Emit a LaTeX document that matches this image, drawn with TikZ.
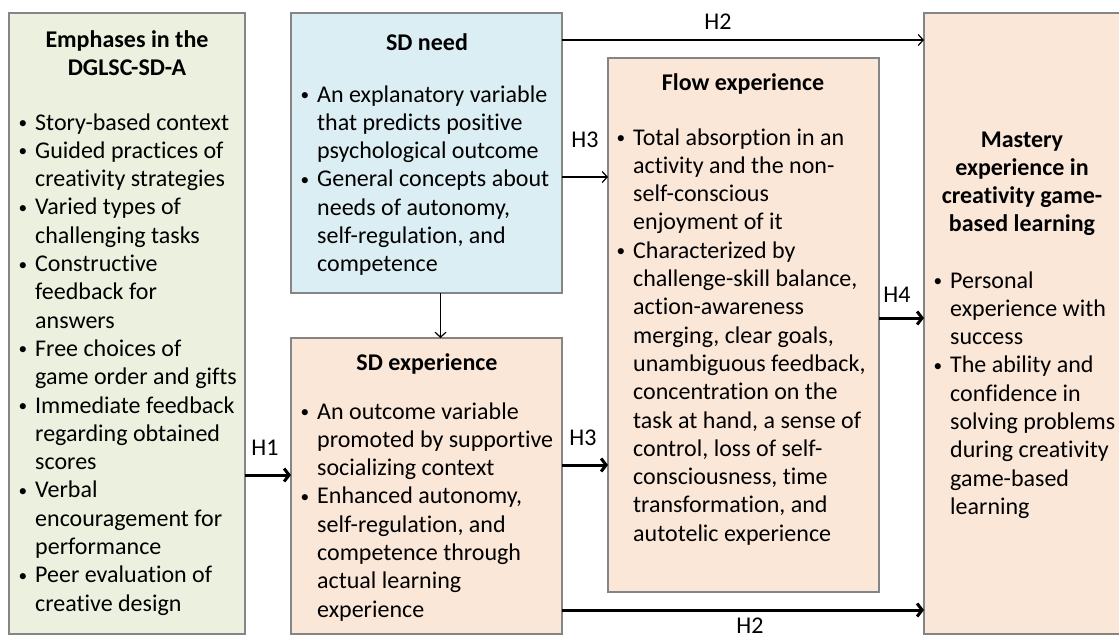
\documentclass[tikz,border=0pt]{standalone}
\usepackage{fontspec}
\usepackage{graphicx}
\setmainfont[Ligatures=NoCommon]{Carlito}
\usetikzlibrary{arrows.meta}
\definecolor{gfill}{HTML}{EBF1DE}
\definecolor{bfill}{HTML}{DBEEF4}
\definecolor{pfill}{HTML}{FBE7D8}
\definecolor{bord}{HTML}{858585}
\newcommand{\fs}{\fontsize{24}{28.3}\selectfont}
\newcommand{\bu}{\hfill\raisebox{1.5pt}{\scalebox{0.72}{\textbullet}}\kern8pt}
\newenvironment{blist}{\begin{tabular}[t]{@{}p{20pt}@{}l@{}}}{\end{tabular}}
\newenvironment{tlist}{\begin{tabular}[t]{@{}c@{}}}{\end{tabular}}
\begin{document}
\begin{tikzpicture}[x=1pt,y=-1pt,
 box/.style={draw=bord, line width=1.6pt, inner sep=0pt, outer sep=0pt, anchor=north west},
 ttl/.style={inner sep=0pt, font=\fs\bfseries, anchor=base},
 txt/.style={inner sep=0pt, font=\fs, anchor=base west},
 lab/.style={inner sep=0pt, font=\fs, anchor=base},
 thinarr/.style={line width=1.2pt, -{Straight Barb[length=5pt,width=11pt]}},
 thickarr/.style={line width=3pt, -{Straight Barb[length=5pt,width=13pt]}}]
\useasboundingbox (0,0) rectangle (1119,638);
% boxes
\node[box, fill=gfill, minimum width=236pt, minimum height=621pt] (g) at (9,13) {};
\node[box, fill=bfill, minimum width=271pt, minimum height=280pt] (n) at (291,13) {};
\node[box, fill=pfill, minimum width=271pt, minimum height=296pt] (e) at (291,338) {};
\node[box, fill=pfill, minimum width=271pt, minimum height=534pt] (f) at (608,58) {};
\node[box, fill=pfill, minimum width=197pt, minimum height=621pt] (m) at (924,13) {};
% green
\node[ttl] (gt) at (127,47) {\begin{tlist}Emphases in the\\ DGLSC-SD-A\end{tlist}};
\node[txt] (gl) at (15,130) {\begin{blist}
\bu & Story-based context\\
\bu & Guided practices of\\
    & creativity strategies\\
\bu & Varied types of\\
    & challenging tasks\\
\bu & Constructive\\
    & feedback for\\
    & answers\\
\bu & Free choices of\\
    & game order and gifts\\
\bu & Immediate feedback\\
    & regarding obtained\\
    & scores\\
\bu & Verbal\\
    & encouragement for\\
    & performance\\
\bu & Peer evaluation of\\
    & creative design
\end{blist}};
% SD need
\node[ttl] (nt) at (427,50) {SD need};
\node[txt] (nl) at (297,102) {\begin{blist}
\bu & An explanatory variable\\
    & that predicts positive\\
    & psychological outcome\\
\bu & General concepts about\\
    & needs of autonomy,\\
    & self-regulation, and\\
    & competence
\end{blist}};
% SD experience
\node[ttl] (et) at (427,370) {SD experience};
\node[txt] (el) at (297,419) {\begin{blist}
\bu & An outcome variable\\
    & promoted by supportive\\
    & socializing context\\
\bu & Enhanced autonomy,\\
    & self-regulation, and\\
    & competence through\\
    & actual learning\\
    & experience
\end{blist}};
% Flow
\node[ttl] (ft) at (743,90) {Flow experience};
\node[txt] (fl) at (613,145) {\begin{blist}
\bu & Total absorption in an\\
    & activity and the non-\\
    & self-conscious\\
    & enjoyment of it\\
\bu & Characterized by\\
    & challenge-skill balance,\\
    & action-awareness\\
    & merging, clear goals,\\
    & unambiguous feedback,\\
    & concentration on the\\
    & task at hand, a sense of\\
    & control, loss of self-\\
    & consciousness, time\\
    & transformation, and\\
    & autotelic experience
\end{blist}};
% Mastery
\node[ttl] (mt) at (1022,147) {\begin{tlist}Mastery\\ experience in\\ creativity game-\\ based learning\end{tlist}};
\node[txt] (ml) at (930,288) {\begin{blist}
\bu & Personal\\
    & experience with\\
    & success\\
\bu & The ability and\\
    & confidence in\\
    & solving problems\\
    & during creativity\\
    & game-based\\
    & learning
\end{blist}};
% connectors
\draw[thinarr] ([yshift=-27pt]n.north east) -- ([yshift=-27pt]m.north west);
\draw[thinarr] ([yshift=-164pt]n.north east) -- ([yshift=-119pt]f.north west);
\draw[thinarr] ([xshift=14pt]n.south) -- ([xshift=14pt]e.north);
\draw[thickarr] ([yshift=-462pt]g.north east) -- ([yshift=-137pt]e.north west);
\draw[thickarr] ([yshift=-127pt]e.north east) -- ([yshift=-407pt]f.north west);
\draw[thickarr] ([yshift=-272pt]e.north east) -- ([yshift=-597pt]m.north west);
\draw[thickarr] ([yshift=-260pt]f.north east) -- ([yshift=-305pt]m.north west);
% labels
\node[lab] (l1) at (718,29) {H2};
\node[lab] (l2) at (585,147) {H3};
\node[lab] (l3) at (265,455) {H1};
\node[lab] (l4) at (583,445) {H3};
\node[lab] (l5) at (897,302) {H4};
\node[lab] (l6) at (750,633) {H2};
\end{tikzpicture}
\end{document}
